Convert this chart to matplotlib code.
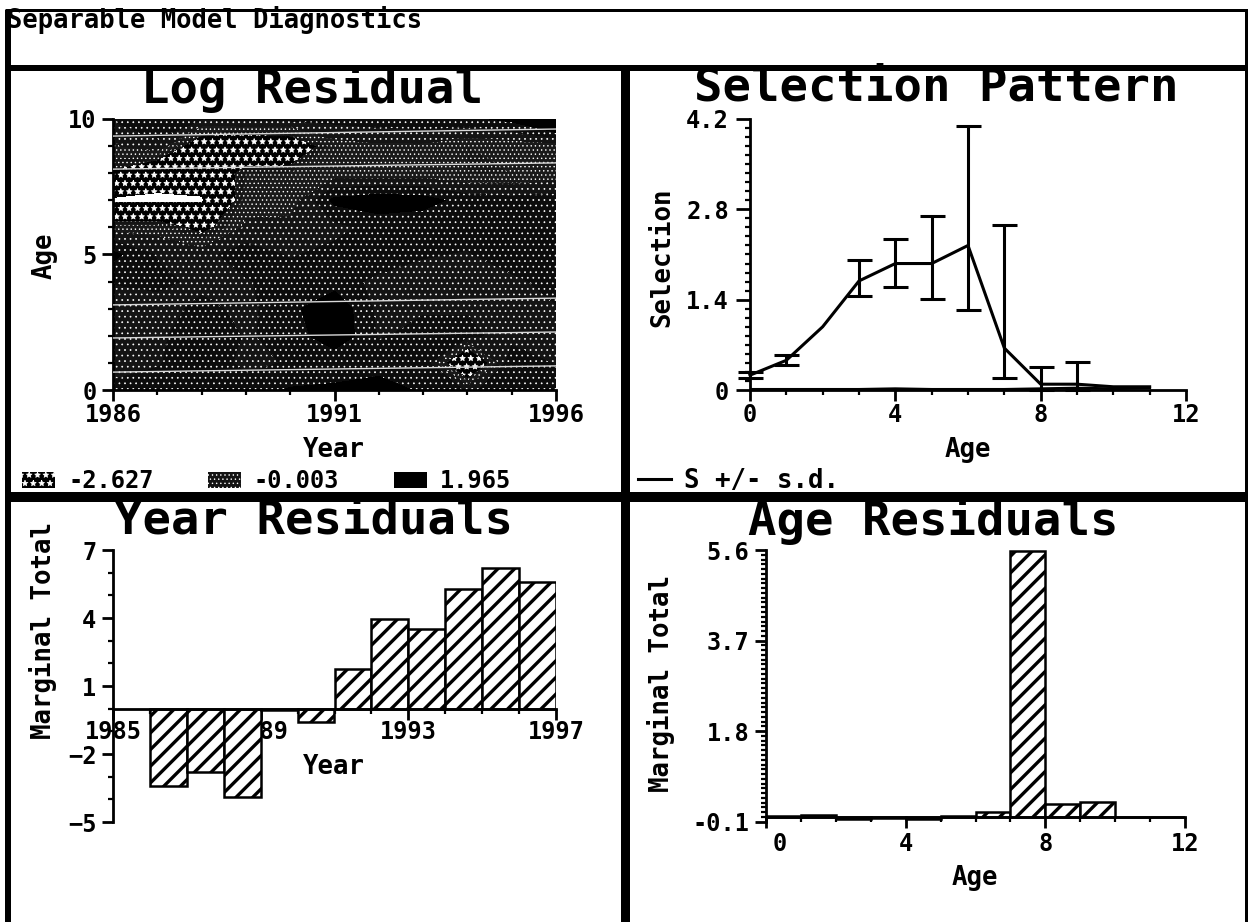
import matplotlib
matplotlib.use("Agg")
import matplotlib.pyplot as plt
import numpy as np
from matplotlib.lines import Line2D
from matplotlib.patches import Patch
from matplotlib.ticker import MultipleLocator
from matplotlib.transforms import ScaledTranslation

# ---------- data ----------
main_title = "Separable Model Diagnostics"

grid_years = [1986, 1987, 1988, 1989, 1990, 1991, 1992, 1993, 1994, 1995, 1996]
grid_ages = [0, 1, 2, 3, 4, 5, 6, 7, 8, 9, 10]
log_residual = [
    [0.4, 0.5, 0.3, 0.5, 0.8, 0.9, 0.9, 0.7, 0.2, 0.4, 0.5],
    [0.0, 0.2, 0.6, 0.1, 0.3, 0.3, 0.6, 0.7, -2.44, 0.7, 0.2],
    [-0.1, 0.1, 0.7, 0.2, 0.4, 1.2, 0.2, 0.4, 0.4, 0.0, 0.1],
    [-0.2, 0.0, 0.4, 0.1, 0.6, 1.2, 0.1, 0.2, 0.2, 0.1, 0.2],
    [0.3, 0.4, 0.1, 0.2, 0.5, 0.5, 0.1, 0.0, 0.0, 0.1, 0.5],
    [0.9, 0.2, 0.1, 0.5, 0.2, 0.4, 0.6, 0.3, 0.2, 0.6, 0.7],
    [-0.4, -0.4, -1.2, -0.1, 0.0, 0.1, 0.4, 0.3, 0.5, 0.5, 0.6],
    [-2.627, -2.627, -2.55, -0.4, -0.5, 0.9, 1.1, 1.0, 0.5, 0.4, 0.5],
    [-1.0, -2.0, -1.9, -0.6, -0.6, -0.5, -0.5, -0.5, -0.6, -0.6, -0.5],
    [-0.3, 0.2, -1.7, -1.9, -1.7, -0.4, -0.3, -0.3, -0.6, -0.5, -0.5],
    [0.3, 0.4, 0.3, 0.4, 0.4, 0.4, 0.5, 0.6, 0.6, 0.9, 1.965],
]
contour_levels = [-2.7, -2.45, -0.9, -0.6, -0.2, 0.25, 0.75, 2.0]
legend_labels = ["-2.627", "-0.003", "1.965"]

streak_years = [1986, 1996]
streak_ages = [[0.66, 0.89], [1.92, 2.14], [3.14, 3.39], [8.15, 8.38], [9.37, 9.63]]

sel_age = [0, 1, 2, 3, 4, 5, 6, 7, 8, 9, 10, 11]
sel_value = [0.23, 0.46, 0.98, 1.69, 1.96, 1.96, 2.24, 0.65, 0.09, 0.09, 0.05, 0.05]
sel_upper = [0.28, 0.54, np.nan, 2.01, 2.34, 2.69, 4.09, 2.56, 0.35, 0.44, np.nan, np.nan]
sel_lower = [0.18, 0.39, np.nan, 1.45, 1.60, 1.41, 1.24, 0.18, 0.00, 0.00, np.nan, np.nan]
sel_floor = [0.01, 0.01, 0.01, 0.01, 0.02, 0.01, 0.01, 0.01, 0.02, 0.03, 0.02, 0.03]
legend_sel = "S +/- s.d."

year_bins = [1986, 1987, 1988, 1989, 1990, 1991, 1992, 1993, 1994, 1995, 1996]
year_resid = [-3.4, -2.8, -3.9, -0.05, -0.6, 1.75, 3.95, 3.5, 5.3, 6.2, 5.6]

age_bins = [0, 1, 2, 3, 4, 5, 6, 7, 8, 9, 10, 11]
age_resid = [0.03, 0.05, -0.04, -0.03, -0.04, 0.01, 0.10, 5.57, 0.28, 0.31, 0.0, 0.0]

# ---------- layout helpers ----------
W, H = 1248, 922
plt.rcParams["font.family"] = ["DejaVu Sans Mono"]
plt.rcParams["font.weight"] = "bold"
plt.rcParams["axes.labelweight"] = "bold"
plt.rcParams["axes.titleweight"] = "bold"

fig = plt.figure(figsize=(W / 100, H / 100), dpi=100, facecolor="white")
PX = 0.72
TITLE_FS, LABEL_FS, TICK_FS = 34, 18.5, 17


def make_axes(l, r, t, b):
    ax = fig.add_axes([l / W, 1 - b / H, (r - l) / W, (b - t) / H])
    ax.spines["top"].set_visible(False)
    ax.spines["right"].set_visible(False)
    for s in ax.spines.values():
        s.set_linewidth(2.0)
    ax.box = (l, r, t, b)
    return ax


def style(ax, title, tcx, tcy, xlabel, xcx, xcy, ylabel, ycx, ycy):
    l, r, t, b = ax.box
    ax.set_title(title, fontsize=TITLE_FS, x=(tcx - l) / (r - l),
                 y=(b - tcy) / (b - t), va="center", ha="center", pad=0)
    ax.set_xlabel(xlabel, fontsize=LABEL_FS)
    ax.xaxis.set_label_coords((xcx - l) / (r - l), (b - xcy) / (b - t))
    ax.xaxis.label.set_va("center")
    ax.set_ylabel(ylabel, fontsize=LABEL_FS)
    ax.yaxis.set_label_coords((ycx - l) / (r - l), (b - ycy) / (b - t))
    ax.yaxis.label.set_va("center")
    ax.tick_params(axis="both", which="major", length=11 * PX, width=2.0,
                   labelsize=TICK_FS, pad=1.5)
    ax.tick_params(axis="y", which="major", pad=4)
    ax.tick_params(axis="both", which="minor", length=5 * PX, width=1.6)


# ---------- frame ----------
def rule(x0, x1, y0, y1, w):
    fig.add_artist(Line2D([x0 / W, x1 / W], [1 - y0 / H, 1 - y1 / H],
                          color="black", lw=w * PX, solid_capstyle="butt"))


rule(5, 1248, 10.5, 10.5, 3)
rule(5, 1248, 68, 68, 6)
rule(5, 1248, 497, 497, 10)
rule(8, 8, 10, 922, 6)
rule(625, 625, 68, 922, 9)
rule(1246, 1246, 10, 922, 3)
fig.text(7 / W, 1 - 20 / H, main_title, fontsize=18.4, va="center", ha="left")

# ---------- Log Residual ----------
ax1 = make_axes(113, 556, 119, 390)
plt.rcParams["hatch.color"] = "white"
plt.rcParams["hatch.linewidth"] = 0.5
band_colors = ["white", "#000000", "#141414", "#1a1a1a", "#141414", "#0c0c0c", "#000000"]
band_hatches = ["", "**", "....", "....", "...", "...", ""]
cs = ax1.contourf(grid_years, grid_ages, np.array(log_residual), levels=contour_levels,
                  colors=band_colors, hatches=band_hatches)
plt.rcParams["hatch.color"] = "black"
for a in streak_ages:
    ax1.plot(streak_years, a, color="#d8d8d8", lw=1.0, zorder=3)
ax1.set_xlim(1986, 1996)
ax1.set_ylim(0, 10)
style(ax1, "Log Residual", 312, 89, "Year", 334, 450, "Age", 45, 256)
ax1.set_xticks([1986, 1991, 1996])
ax1.set_yticks([0, 5, 10])
ax1.xaxis.set_minor_locator(MultipleLocator(1))
ax1.yaxis.set_minor_locator(MultipleLocator(1))
handles1 = [
    Patch(facecolor="black", edgecolor="white", hatch="**", lw=0),
    Patch(facecolor="#141414", edgecolor="white", hatch="....", lw=0),
    Patch(facecolor="black", lw=0),
]
ax1.legend(handles1, legend_labels, ncol=3, frameon=False, fontsize=TICK_FS,
           loc="center left", bbox_to_anchor=(22 / W, 1 - 481 / H),
           bbox_transform=fig.transFigure, borderpad=0, borderaxespad=0,
           handlelength=1.4, handleheight=0.65, handletextpad=0.55, columnspacing=2.3)
plt.rcParams["hatch.linewidth"] = 2.4

# ---------- Selection Pattern ----------
ax2 = make_axes(750, 1186, 119, 390)
ax2.errorbar(sel_age, sel_value, yerr=[np.array(sel_value) - np.array(sel_lower),
                                        np.array(sel_upper) - np.array(sel_value)],
             color="black", lw=2.2, elinewidth=2.2, capsize=9, capthick=2.2, clip_on=False)
ax2.plot(sel_age, sel_floor, color="black", lw=2.0)
ax2.set_xlim(0, 12)
ax2.set_ylim(0, 4.2)
style(ax2, "Selection Pattern", 936, 88, "Age", 968, 450, "Selection", 662, 257)
ax2.set_xticks([0, 4, 8, 12])
ax2.set_yticks([0, 1.4, 2.8, 4.2])
ax2.set_yticklabels(["0", "1.4", "2.8", "4.2"])
ax2.xaxis.set_minor_locator(MultipleLocator(1))
ax2.yaxis.set_minor_locator(MultipleLocator(0.14))
ax2.tick_params(axis="y", which="major", length=14 * PX, pad=5)
ax2.legend([Line2D([], [], color="black", lw=2.2)], [legend_sel], frameon=False,
           fontsize=LABEL_FS, loc="center left", bbox_to_anchor=(638 / W, 1 - 481 / H),
           bbox_transform=fig.transFigure, borderpad=0, borderaxespad=0,
           handlelength=1.3, handletextpad=0.5)

# ---------- Year Residuals ----------
ax3 = make_axes(113, 556, 550, 822)
ax3.set_axisbelow(True)
ax3.bar(year_bins, year_resid, width=1.0, align="edge", facecolor="white",
        edgecolor="black", lw=1.8, hatch="//", zorder=2)
ax3.set_xlim(1985, 1997)
ax3.set_ylim(-5, 7)
ax3.spines["bottom"].set_position(("data", 0))
style(ax3, "Year Residuals", 314, 521, "Year", 334, 767, "Marginal Total", 43, 630)
ax3.set_xticks([1985, 1989, 1993, 1997])
ax3.set_yticks([-5, -2, 1, 4, 7])
ax3.xaxis.set_minor_locator(MultipleLocator(1))
ax3.yaxis.set_minor_locator(MultipleLocator(1))
ax3.tick_params(axis="x", which="major", pad=0)

# ---------- Age Residuals ----------
ax4 = make_axes(766, 1185, 550, 821.7)
ax4.set_axisbelow(True)
ax4.bar(age_bins, age_resid, width=1.0, align="edge", facecolor="white",
        edgecolor="black", lw=1.8, hatch="//", zorder=2)
ax4.set_xlim(0, 12)
ax4.set_ylim(-0.1, 5.6)
ax4.spines["bottom"].set_position(("data", 0))
style(ax4, "Age Residuals", 933, 521, "Age", 975, 878, "Marginal Total", 661, 683)
ax4.set_xticks([0, 4, 8, 12])
ax4.set_yticks([-0.1, 1.8, 3.7, 5.6])
ax4.set_yticklabels(["-0.1", "1.8", "3.7", "5.6"])
ax4.xaxis.set_minor_locator(MultipleLocator(1))
ax4.yaxis.set_minor_locator(MultipleLocator(0.1))
ax4.tick_params(axis="x", which="major", pad=3)
zero_label = ax4.get_xticklabels()[0]
zero_label.set_transform(zero_label.get_transform()
                         + ScaledTranslation(14 / 100, 0, fig.dpi_scale_trans))

fig.savefig("out.png", dpi=100, facecolor="white")
